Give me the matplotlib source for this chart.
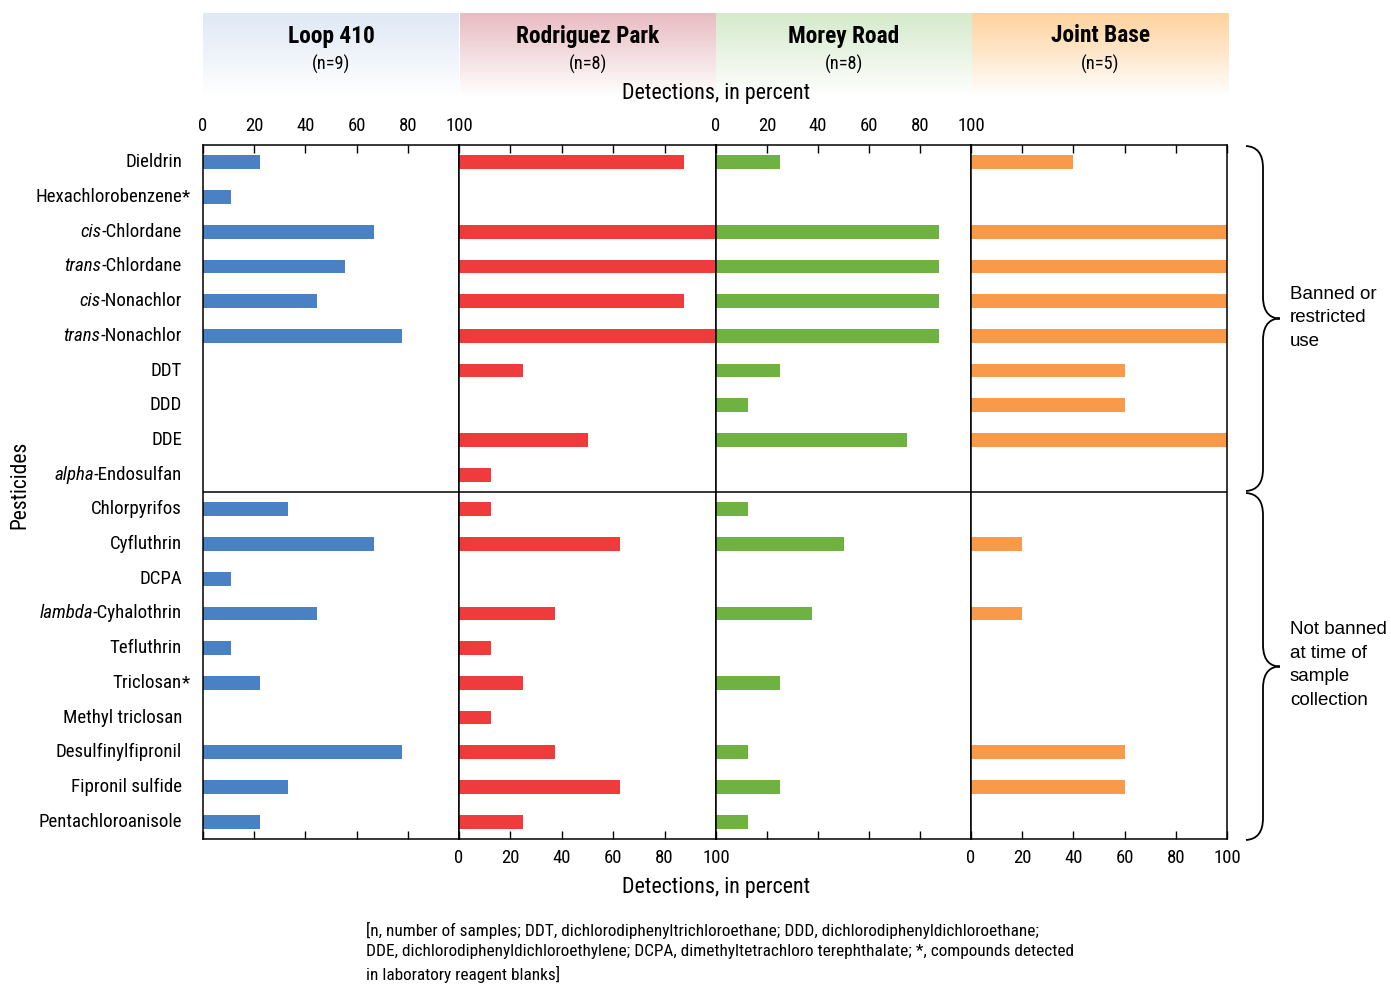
import numpy as np
import matplotlib
matplotlib.use("Agg")
import matplotlib.pyplot as plt
from matplotlib import font_manager
from matplotlib.path import Path
from matplotlib.patches import PathPatch
from matplotlib.colors import to_rgb

# ---------------- data ----------------
pesticides = ["Dieldrin", "Hexachlorobenzene*", "cis-Chlordane", "trans-Chlordane",
              "cis-Nonachlor", "trans-Nonachlor", "DDT", "DDD", "DDE",
              "alpha-Endosulfan", "Chlorpyrifos", "Cyfluthrin", "DCPA",
              "lambda-Cyhalothrin", "Tefluthrin", "Triclosan*", "Methyl triclosan",
              "Desulfinylfipronil", "Fipronil sulfide", "Pentachloroanisole"]
italic_prefixes = ["cis", "trans", "alpha", "lambda"]

sites = ["Loop 410", "Rodriguez Park", "Morey Road", "Joint Base"]
sample_counts = ["(n=9)", "(n=8)", "(n=8)", "(n=5)"]

loop410 = [22.2, 11.1, 66.7, 55.6, 44.4, 77.8, 0, 0, 0, 0,
           33.3, 66.7, 11.1, 44.4, 11.1, 22.2, 0, 77.8, 33.3, 22.2]
rodriguez = [87.5, 0, 100, 100, 87.5, 100, 25, 0, 50, 12.5,
             12.5, 62.5, 0, 37.5, 12.5, 25, 12.5, 37.5, 62.5, 25]
morey = [25, 0, 87.5, 87.5, 87.5, 87.5, 25, 12.5, 75, 0,
         12.5, 50, 0, 37.5, 0, 25, 0, 12.5, 25, 12.5]
joint = [40, 0, 100, 100, 100, 100, 60, 60, 100, 0,
         0, 20, 0, 20, 0, 0, 0, 60, 60, 0]
series = [loop410, rodriguez, morey, joint]

tick_values = [0, 20, 40, 60, 80, 100]
groups = ["Banned or\nrestricted\nuse", "Not banned\nat time of\nsample\ncollection"]
n_banned = 10

bar_colors = ["#4a80c4", "#f03b3c", "#70b242", "#f89a4a"]
header_colors = ["#dfe8f5", "#e8bcc1", "#d5eacb", "#fed29d"]

# ---------------- fonts ----------------
available = {f.name for f in font_manager.fontManager.ttflist}
def pick(cands):
    for c in cands:
        if c in available:
            return c
    return "DejaVu Sans"
COND = pick(["Roboto Condensed", "Liberation Sans Narrow", "Arial Narrow",
             "DejaVu Sans Condensed", "Liberation Sans"])
WIDE = pick(["Liberation Sans", "Arial", "DejaVu Sans"])
plt.rcParams["font.family"] = [COND, "DejaVu Sans"]

W, H = 1391, 985
fig = plt.figure(figsize=(W / 100, H / 100), dpi=100)

def fx(px):
    return px / W
def fy(py):
    return 1 - py / H

left_px = [203, 459, 716, 971]
right_px = [459, 716, 971, 1227]
top_px, bot_px = 145, 839

LABEL_FS = 13.6
ypos = np.arange(len(pesticides))
axes = []
for i in range(4):
    ax = fig.add_axes([fx(left_px[i]), fy(bot_px), fx(right_px[i] - left_px[i]),
                       (bot_px - top_px) / H])
    ax.barh(ypos, series[i], height=0.4, color=bar_colors[i], zorder=2)
    ax.set_xlim(0, 100)
    ax.set_ylim(len(pesticides) - 0.5, -0.5)
    ax.set_yticks([])
    ax.axhline(n_banned - 0.5, color="black", lw=1.1, zorder=3)
    ax.set_xticks(tick_values)
    top_labels = i in (0, 2)
    ax.tick_params(axis="x", which="both", direction="in", length=6, width=1,
                   top=True, bottom=True, labeltop=top_labels,
                   labelbottom=not top_labels, labelsize=13.5, pad=7)
    for s in ax.spines.values():
        s.set_linewidth(1.1)
    axes.append(ax)

# category labels
ax0 = axes[0]
label_x_px = 182
lbl_trans = matplotlib.transforms.blended_transform_factory(fig.transFigure, ax0.transData)
for k, name in enumerate(pesticides):
    star = name.endswith("*")
    base = name[:-1] if star else name
    prefix = None
    for p in italic_prefixes:
        if base.startswith(p + "-"):
            prefix = p
            base = base[len(p):]
            break
    t = ax0.text(fx(label_x_px), k, base, transform=lbl_trans,
                 ha="right", va="center", fontsize=LABEL_FS, clip_on=False)
    if prefix:
        ax0.annotate(prefix, xy=(0, 0), xycoords=t, ha="right", va="bottom",
                     fontsize=LABEL_FS, style="italic")
    if star:
        ax0.annotate("*", xy=(1, 0), xycoords=t, ha="left", va="bottom",
                     fontsize=LABEL_FS)

fig.text(fx(20), fy(485), "Pesticides", rotation=90, ha="center", va="center",
         fontsize=15.5)

# headers with gradient
hdr_top, hdr_bot = 13, 97
hdr_left = [203, 460, 716, 972]
hdr_right = [459, 716, 972, 1229]
for i in range(4):
    hax = fig.add_axes([fx(hdr_left[i]), fy(hdr_bot), fx(hdr_right[i] - hdr_left[i]),
                        (hdr_bot - hdr_top) / H])
    c = np.array(to_rgb(header_colors[i]))
    tvals = np.linspace(0, 1, 100)[:, None]
    grad = c[None, :] * (1 - tvals) + np.ones(3)[None, :] * tvals
    grad = grad[:, None, :]
    hax.imshow(grad, aspect="auto", extent=[0, 1, 0, 1])
    hax.set_axis_off()
    cx = (hdr_left[i] + hdr_right[i]) / 2
    fig.text(fx(cx), fy(36), sites[i], ha="center", va="center", fontsize=16.8,
             fontweight="bold")
    fig.text(fx(cx), fy(64), sample_counts[i], ha="center", va="center", fontsize=13.2)

fig.text(fx(716), fy(94), "Detections, in percent", ha="center", va="center", fontsize=15.8)
fig.text(fx(716), fy(887), "Detections, in percent", ha="center", va="center", fontsize=15.8)

# braces and group labels
oax = fig.add_axes([0, 0, 1, 1], facecolor="none")
oax.set_xlim(0, W)
oax.set_ylim(H, 0)
oax.set_axis_off()

def brace(y0, y1, x0=1246, x1=1263, xt=1280):
    ym = (y0 + y1) / 2
    r = 22
    verts = [(x0, y0), (x1, y0 + 1), (x1, y0 + r),
             (x1, ym - r),
             (x1, ym - 4), (xt - 8, ym), (xt, ym),
             (xt - 8, ym), (x1, ym + 4), (x1, ym + r),
             (x1, y1 - r),
             (x1, y1 - 1), (x0, y1)]
    codes = [Path.MOVETO, Path.CURVE3, Path.CURVE3,
             Path.LINETO,
             Path.CURVE4, Path.CURVE4, Path.CURVE4,
             Path.CURVE4, Path.CURVE4, Path.CURVE4,
             Path.LINETO,
             Path.CURVE3, Path.CURVE3]
    oax.add_patch(PathPatch(Path(verts, codes), fill=False, lw=1.3, color="black"))

mid_px = top_px + (bot_px - top_px) * n_banned / len(pesticides)
brace(top_px + 1, mid_px - 1)
brace(mid_px + 1, bot_px + 1)
fig.text(fx(1290), fy(318), groups[0], ha="left", va="center", fontsize=13.5,
         family=[WIDE, "DejaVu Sans"], linespacing=1.5)
fig.text(fx(1290), fy(665), groups[1], ha="left", va="center", fontsize=13.5,
         family=[WIDE, "DejaVu Sans"], linespacing=1.5)

note = ("[n, number of samples; DDT, dichlorodiphenyltrichloroethane; DDD, dichlorodiphenyldichloroethane;\n"
        "DDE, dichlorodiphenyldichloroethylene; DCPA, dimethyltetrachloro terephthalate; *, compounds detected\n"
        "in laboratory reagent blanks]")
fig.text(fx(366), fy(922), note, ha="left", va="top", fontsize=12.4, linespacing=1.45)

fig.savefig("out.png", dpi=100)
